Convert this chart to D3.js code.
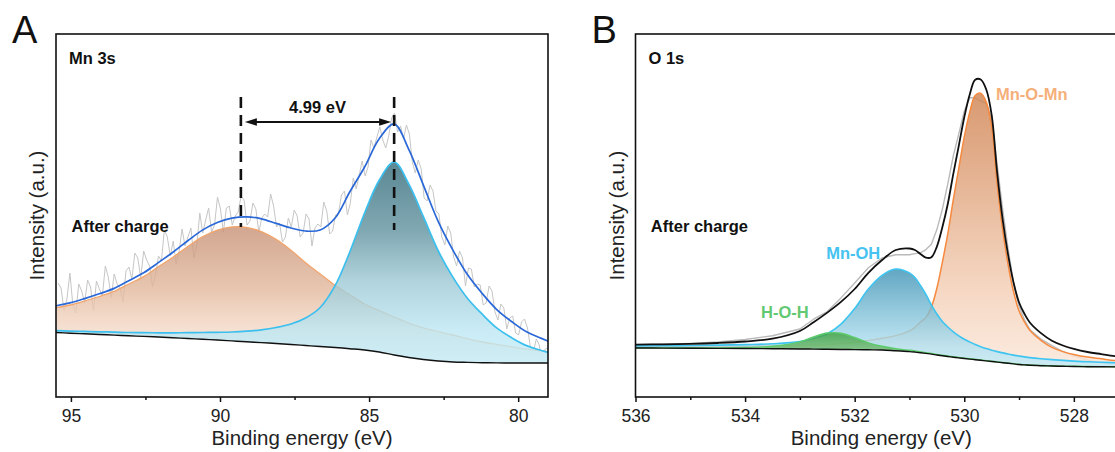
<!DOCTYPE html>
<html>
<head>
<meta charset="utf-8">
<script src="https://cdn.jsdelivr.net/npm/d3@7"></script>
<style>
  body { margin: 0; background: #fff; }
  svg { display: block; font-family: "Liberation Sans", Arial, sans-serif; }
</style>
</head>
<body>
<div id="chart"></div>
<script>
// ---------- Panel A: Mn 3s (kcps, binding energy in eV) ----------
const energyA = [95.53, 95.03, 94.54, 94.05, 93.55, 93.06, 92.56, 92.07, 91.58, 91.08, 90.59, 90.09,
  89.60, 89.11, 88.61, 88.12, 87.62, 87.13, 86.64, 86.14, 85.65, 85.15, 84.66, 84.16, 83.67, 83.18,
  82.68, 82.19, 81.69, 81.20, 80.71, 80.21, 79.72, 79.22, 78.90];
const backgroundA = [6.45, 6.38, 6.32, 6.25, 6.19, 6.12, 6.06, 6.00, 5.92, 5.85, 5.77, 5.70, 5.61, 5.52,
  5.44, 5.35, 5.25, 5.15, 5.05, 4.95, 4.83, 4.70, 4.50, 4.20, 3.95, 3.75, 3.60, 3.50, 3.46, 3.43, 3.41,
  3.40, 3.40, 3.40, 3.40];
const mnHighA = [8.92, 9.20, 9.60, 10.05, 10.56, 11.30, 12.04, 13.02, 13.97, 15.05, 16.01, 16.68, 17.00,
  16.96, 16.54, 15.76, 14.68, 13.43, 12.30, 11.16, 10.23, 9.30, 8.64, 8.00, 7.40, 6.91, 6.53, 6.20, 5.82,
  5.50, 5.25, 5.01, 4.78, 4.61, 4.49];
const mnLowA = [6.64, 6.59, 6.56, 6.52, 6.49, 6.45, 6.44, 6.42, 6.42, 6.43, 6.45, 6.47, 6.50, 6.58, 6.72,
  6.95, 7.30, 7.90, 8.95, 11.13, 14.48, 18.40, 21.68, 23.50, 21.32, 18.03, 14.60, 11.99, 9.83, 8.26, 6.88,
  5.91, 5.14, 4.65, 4.37];
const envelopeA = [9.11, 9.41, 9.84, 10.32, 10.86, 11.63, 12.42, 13.44, 14.47, 15.63, 16.69, 17.45, 17.89,
  18.02, 17.82, 17.36, 16.90, 16.60, 16.70, 17.90, 20.50, 23.00, 25.82, 27.30, 24.77, 21.19, 17.53, 14.69,
  12.19, 10.33, 8.72, 7.52, 6.52, 5.86, 5.46];
const rawStartA = 95.43, rawStepA = 0.099;
const rawA = [11.4, 10.9, 8.7, 9.8, 12.4, 9.2, 8.4, 11.3, 10.6, 9.4,
  11.7, 11.0, 8.6, 11.6, 10.8, 10.1, 13.1, 12.0, 9.9, 12.3,
  11.3, 10.9, 9.5, 12.6, 13.0, 11.8, 14.4, 13.9, 11.9, 14.6,
  13.7, 13.1, 11.0, 12.2, 14.1, 13.6, 16.7, 16.0, 14.1, 15.6,
  13.3, 14.6, 16.8, 15.1, 16.0, 16.9, 13.9, 15.2, 18.4, 16.4,
  17.7, 18.9, 16.5, 17.2, 20.0, 18.8, 16.5, 18.9, 19.1, 17.2,
  18.1, 18.5, 20.1, 19.7, 17.2, 17.6, 19.4, 18.8, 16.5, 17.9,
  18.3, 18.0, 20.3, 19.1, 17.0, 17.4, 15.5, 16.0, 17.9, 17.0,
  18.7, 18.1, 16.0, 16.4, 18.3, 17.8, 15.1, 16.9, 17.3, 17.0,
  19.5, 18.6, 16.3, 16.6, 18.2, 18.4, 20.2, 20.6, 18.2, 19.4,
  21.9, 20.8, 22.2, 23.6, 22.1, 23.0, 25.7, 24.9, 26.0, 27.0,
  25.7, 24.9, 26.1, 27.9, 28.4, 26.5, 27.1, 25.8, 27.2, 26.3,
  23.5, 22.4, 23.7, 22.8, 19.9, 19.6, 21.2, 20.6, 18.6, 18.3,
  16.0, 15.2, 17.1, 16.4, 14.0, 13.1, 14.6, 13.9, 11.1, 12.9,
  12.8, 11.0, 11.3, 11.2, 9.2, 9.4, 11.1, 10.6, 8.5, 7.7,
  9.3, 8.9, 6.8, 7.9, 8.1, 6.4, 6.2, 7.5, 7.8, 6.9,
  5.0, 4.5, 5.8, 5.2, 3.4, 4.8, 4.9, 3.7, 4.3];
const splitEnergiesA = [89.30, 84.16];
const splitLabelA = '4.99 eV';
const ticksA = [95, 90, 85, 80];
const minorTicksA = [92.5, 87.5, 82.5];

// ---------- Panel B: O 1s ----------
const energyB = [536, 535.5, 535, 534.5, 534, 533.5, 533, 532.75, 532.5, 532.25, 532, 531.75, 531.5,
  531.25, 531, 530.9, 530.8, 530.7, 530.6, 530.5, 530.4, 530.3, 530.2, 530.1, 530, 529.9, 529.8, 529.7,
  529.6, 529.5, 529.4, 529.3, 529.2, 529.1, 529, 528.9, 528.8, 528.6, 528.4, 528.2, 528, 527.75, 527.5,
  527.25, 527];
const backgroundB = [4.90, 4.89, 4.87, 4.86, 4.85, 4.83, 4.80, 4.79, 4.77, 4.75, 4.74, 4.72, 4.70, 4.62,
  4.54, 4.49, 4.43, 4.36, 4.29, 4.20, 4.12, 4.05, 3.98, 3.91, 3.85, 3.79, 3.73, 3.67, 3.61, 3.55, 3.49,
  3.43, 3.37, 3.31, 3.25, 3.21, 3.18, 3.13, 3.10, 3.07, 3.05, 3.03, 3.02, 3.01, 3.00];
const mnOMnB = [5.01, 5.01, 5.00, 5.02, 5.06, 5.10, 5.15, 5.19, 5.25, 5.34, 5.49, 5.65, 5.87, 6.14, 6.62,
  6.97, 7.50, 7.96, 8.99, 10.88, 13.47, 16.33, 19.73, 22.87, 26.01, 28.49, 30.16, 30.37, 29.51, 27.05,
  21.38, 16.78, 13.25, 10.52, 8.59, 7.48, 6.65, 5.67, 4.97, 4.54, 4.25, 3.99, 3.82, 3.65, 3.53];
const mnOHB = [5.11, 5.13, 5.15, 5.19, 5.24, 5.32, 5.54, 5.86, 6.33, 7.29, 8.84, 10.79, 12.16, 12.80,
  12.41, 11.95, 11.15, 10.26, 9.21, 8.30, 7.56, 7.00, 6.52, 6.12, 5.78, 5.51, 5.25, 5.02, 4.84, 4.68,
  4.54, 4.41, 4.30, 4.19, 4.09, 4.01, 3.94, 3.83, 3.74, 3.66, 3.59, 3.52, 3.47, 3.43, 3.39];
const hOHB = [4.92, 4.91, 4.90, 4.91, 4.95, 5.07, 5.51, 6.01, 6.40, 6.38, 5.95, 5.42, 5.07, 4.82, 4.67,
  4.60, 4.52, 4.44, 4.36, 4.26, 4.18, 4.10, 4.03, 3.95, 3.89, 3.83, 3.77, 3.70, 3.64, 3.58, 3.52, 3.46,
  3.40, 3.34, 3.27, 3.23, 3.20, 3.15, 3.12, 3.09, 3.07, 3.05, 3.04, 3.03, 3.01];
const envelopeB = [5.24, 5.27, 5.31, 5.40, 5.55, 5.83, 6.60, 7.48, 8.44, 9.51, 10.80, 12.42, 13.70, 14.70,
  14.85, 14.70, 14.31, 13.94, 13.98, 15.04, 16.97, 19.33, 22.32, 25.12, 27.98, 30.25, 31.72, 31.75, 30.77,
  28.21, 22.46, 17.79, 14.21, 11.43, 9.45, 8.30, 7.43, 6.39, 5.63, 5.15, 4.81, 4.50, 4.29, 4.09, 3.93];
const rawB = [5.24, 5.27, 5.36, 5.50, 5.75, 6.13, 6.80, 7.78, 8.54, 9.91, 11.40, 12.92, 13.90, 14.22,
  14.22, 14.34, 14.41, 14.74, 15.28, 16.74, 18.77, 21.33, 24.12, 26.32, 28.58, 29.95, 29.90, 29.60, 29.37,
  27.81, 23.26, 18.79, 14.81, 11.43, 9.05, 7.70, 6.73, 5.79, 5.13, 4.55, 4.11, 3.70, 3.39, 3.19, 3.03];
const ticksB = [536, 534, 532, 530, 528];
const minorTicksB = [535, 533, 531, 529, 527];

// ---------- layout ----------
const width = 1115, height = 452;
const plotTop = 34, plotBottom = 397;
const intensityMax = 36.3;

const svg = d3.select('#chart').append('svg')
  .attr('width', width)
  .attr('height', height);
const defs = svg.append('defs');

// vertical gradient (top of the filled shape -> bottom)
function addGradient(id, stops) {
  const grad = defs.append('linearGradient').attr('id', id)
    .attr('x1', 0).attr('y1', 0).attr('x2', 0).attr('y2', 1);
  stops.forEach(([offset, color]) => {
    grad.append('stop').attr('offset', offset).attr('stop-color', color);
  });
  return `url(#${id})`;
}

function drawPanel(p) {
  const x = d3.scaleLinear().domain(p.domain).range([p.left, p.right]);
  const y = d3.scaleLinear().domain([0, intensityMax]).range([plotBottom, plotTop]);
  const curve = d3.curveCatmullRom.alpha(0.5);

  defs.append('clipPath').attr('id', p.id + '-clip')
    .append('rect')
    .attr('x', p.left).attr('y', plotTop)
    .attr('width', p.right - p.left).attr('height', plotBottom - plotTop);

  const plot = svg.append('g').attr('clip-path', `url(#${p.id}-clip)`);

  const line = d3.line()
    .x((d, i) => x(p.energy[i]))
    .y(d => y(d))
    .curve(curve);
  const area = d3.area()
    .x((d, i) => x(p.energy[i]))
    .y0((d, i) => y(p.background[i]))
    .y1(d => y(d))
    .curve(curve);

  // raw spectrum underneath everything
  plot.append('path')
    .datum(p.raw.values)
    .attr('d', d3.line().x((d, i) => x(p.raw.energy[i])).y(d => y(d)))
    .attr('fill', 'none')
    .attr('stroke', p.raw.color)
    .attr('stroke-width', p.raw.width)
    .attr('stroke-linejoin', 'round');

  // fitted components, each filled down to the background
  p.peaks.forEach((pk, k) => {
    plot.append('path')
      .datum(pk.values)
      .attr('d', area)
      .attr('fill', addGradient(`${p.id}-grad-${k}`, pk.stops))
      .attr('fill-opacity', 0.8);
    plot.append('path')
      .datum(pk.values)
      .attr('d', line)
      .attr('fill', 'none')
      .attr('stroke', pk.color)
      .attr('stroke-width', pk.width);
  });

  // background and envelope
  plot.append('path')
    .datum(p.background)
    .attr('d', line)
    .attr('fill', 'none')
    .attr('stroke', '#111')
    .attr('stroke-width', 1.4);
  plot.append('path')
    .datum(p.envelope.values)
    .attr('d', line)
    .attr('fill', 'none')
    .attr('stroke', p.envelope.color)
    .attr('stroke-width', p.envelope.width);

  if (p.annotate) p.annotate(svg, x, y);

  // frame
  svg.append('rect')
    .attr('x', p.left).attr('y', plotTop)
    .attr('width', p.right - p.left).attr('height', plotBottom - plotTop)
    .attr('fill', 'none')
    .attr('stroke', '#111')
    .attr('stroke-width', 1.6);

  // bottom axis: major with labels, minor without
  const axisG = svg.append('g').attr('transform', `translate(0,${plotBottom})`);
  axisG.call(d3.axisBottom(x).tickValues(p.ticks).tickSize(5).tickSizeOuter(0).tickPadding(8)
      .tickFormat(d3.format('d')))
    .call(g => g.select('.domain').remove())
    .call(g => g.selectAll('line').attr('stroke', '#111').attr('stroke-width', 1.5))
    .call(g => g.selectAll('text').attr('font-size', 17.5).attr('fill', '#222')
      .attr('font-family', '"Liberation Sans", Arial, sans-serif'));
  svg.append('g').attr('transform', `translate(0,${plotBottom})`)
    .call(d3.axisBottom(x).tickValues(p.minorTicks).tickSize(3).tickSizeOuter(0).tickFormat(''))
    .call(g => g.select('.domain').remove())
    .call(g => g.selectAll('line').attr('stroke', '#111').attr('stroke-width', 1.5));

  // axis titles
  svg.append('text')
    .attr('x', (p.left + p.right) / 2)
    .attr('y', 445)
    .attr('text-anchor', 'middle')
    .attr('font-size', 20.5)
    .attr('fill', '#222')
    .text('Binding energy (eV)');
  svg.append('text')
    .attr('transform', `translate(${p.left - 12},${(plotTop + plotBottom) / 2}) rotate(-90)`)
    .attr('text-anchor', 'middle')
    .attr('font-size', 20.5)
    .attr('fill', '#222')
    .text('Intensity (a.u.)');

  // panel letter and core-level name
  svg.append('text')
    .attr('x', p.left - 44).attr('y', plotTop + 9)
    .attr('font-size', 38)
    .attr('fill', '#111')
    .text(p.letter);
  svg.append('text')
    .attr('x', p.left + 13).attr('y', plotTop + 29.5)
    .attr('font-size', 16.5)
    .attr('font-weight', 'bold')
    .attr('fill', '#111')
    .text(p.title);

  // peak labels
  p.labels.forEach(l => {
    svg.append('text')
      .attr('x', x(l.e)).attr('y', y(l.v))
      .attr('font-size', 16.5)
      .attr('font-weight', 'bold')
      .attr('fill', l.color)
      .text(l.text);
  });
}

// Panel A
drawPanel({
  id: 'mn3s', letter: 'A', title: 'Mn 3s',
  left: 56, right: 548, domain: [95.5, 79.0],
  energy: energyA, background: backgroundA,
  raw: { values: rawA, energy: rawA.map((d, i) => rawStartA - i * rawStepA), color: '#c6c6c6', width: 1 },
  peaks: [
    { values: mnHighA, color: '#f2a56b', width: 1.3,
      stops: [[0, '#c79075'], [0.46, '#e2b89c'], [0.69, '#f1d3bf'], [1, '#faeae0']] },
    { values: mnLowA, color: '#3bbfee', width: 1.7,
      stops: [[0, '#316a78'], [0.34, '#60929f'], [0.59, '#9cc8d4'], [0.84, '#bde7f3'], [1, '#c4eefa']] }
  ],
  envelope: { values: envelopeA, color: '#2a68d8', width: 1.7 },
  ticks: ticksA, minorTicks: minorTicksA,
  labels: [{ text: 'After charge', e: 94.98, v: 16.5, color: '#111' }],
  annotate: (root, x, y) => {
    const g = root.append('g');
    const [eHigh, eLow] = splitEnergiesA;
    [[eHigh, 17.0], [eLow, 16.7]].forEach(([e, v]) => {
      g.append('line')
        .attr('x1', x(e)).attr('x2', x(e))
        .attr('y1', y(30.0)).attr('y2', y(v))
        .attr('stroke', '#111')
        .attr('stroke-width', 2.6)
        .attr('stroke-dasharray', '11,7');
    });
    const ya = y(27.5);
    const xl = x(eHigh) + 4, xr = x(eLow) - 3;
    g.append('line')
      .attr('x1', xl + 6).attr('x2', xr - 6)
      .attr('y1', ya).attr('y2', ya)
      .attr('stroke', '#111').attr('stroke-width', 1.8);
    g.append('path').attr('d', `M${xl},${ya} l12,-3.8 l0,7.6 Z`).attr('fill', '#111');
    g.append('path').attr('d', `M${xr},${ya} l-12,-3.8 l0,7.6 Z`).attr('fill', '#111');
    g.append('text')
      .attr('x', (x(eHigh) + x(eLow)) / 2).attr('y', y(28.4))
      .attr('text-anchor', 'middle')
      .attr('font-size', 16.5)
      .attr('font-weight', 'bold')
      .attr('fill', '#111')
      .text(splitLabelA);
  }
});

// Panel B
drawPanel({
  id: 'o1s', letter: 'B', title: 'O 1s',
  left: 635.5, right: 1127, domain: [536, 527.03],
  energy: energyB, background: backgroundB,
  raw: { values: rawB, energy: energyB, color: '#bababa', width: 1.4 },
  peaks: [
    { values: mnOMnB, color: '#f6893d', width: 1.5,
      stops: [[0, '#ce824f'], [0.2, '#d99468'], [0.5, '#e8b694'], [0.75, '#f4d1b9'], [1, '#fae6d8']] },
    { values: mnOHB, color: '#3ec4f0', width: 1.6,
      stops: [[0, '#3b90b3'], [0.4, '#77bad3'], [0.8, '#b3e2f3'], [1, '#c1ebf9']] },
    { values: hOHB, color: '#5ccb6c', width: 1.4,
      stops: [[0, '#3c9f3c'], [1, '#a8d8a1']] }
  ],
  envelope: { values: envelopeB, color: '#111', width: 1.8 },
  ticks: ticksB, minorTicks: minorTicksB,
  labels: [
    { text: 'After charge', e: 535.72, v: 16.5, color: '#111' },
    { text: 'Mn-OH', e: 532.52, v: 13.77, color: '#45c2ef' },
    { text: 'H-O-H', e: 533.71, v: 7.87, color: '#63c872' },
    { text: 'Mn-O-Mn', e: 529.42, v: 29.7, color: '#f5b07a' }
  ]
});
</script>
</body>
</html>
